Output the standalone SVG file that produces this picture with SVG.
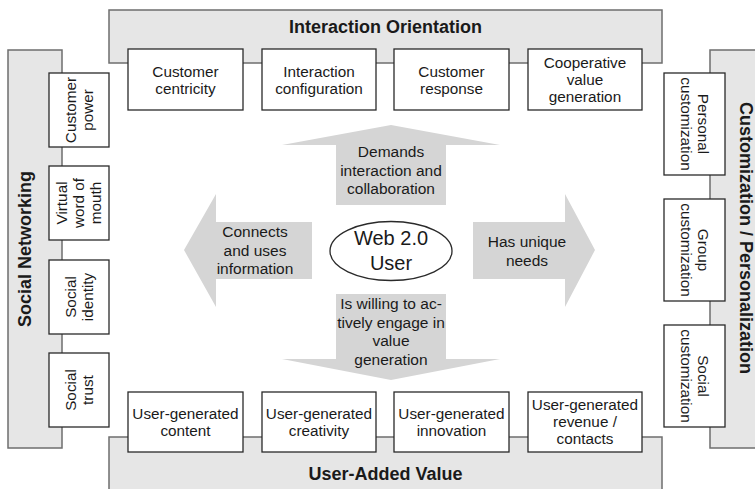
<svg xmlns="http://www.w3.org/2000/svg" width="755" height="489" viewBox="0 0 755 489">
  <style>
    .panel { fill: #e6e6e6; stroke: #6e6e6e; stroke-width: 1.5; }
    .box { fill: #ffffff; stroke: #2a2a2a; stroke-width: 1.3; }
    .arrow { fill: #d5d5d5; stroke: none; }
    .title { font-family: "Liberation Sans", Arial, Helvetica, sans-serif; font-weight: bold; font-size: 18px; fill: #1a1a1a; text-anchor: middle; }
    .lbl { font-family: "Liberation Sans", Arial, Helvetica, sans-serif; font-size: 15.3px; fill: #1a1a1a; text-anchor: middle; }
    .alb { font-family: "Liberation Sans", Arial, Helvetica, sans-serif; font-size: 15.5px; fill: #1a1a1a; text-anchor: middle; }
    .user { font-family: "Liberation Sans", Arial, Helvetica, sans-serif; font-size: 20px; fill: #1a1a1a; text-anchor: middle; }
  </style>

  <!-- Outer panels -->
  <g id="interaction-orientation">
    <rect class="panel" x="109" y="10" width="553" height="53"/>
    <text class="title" x="385.5" y="33">Interaction Orientation</text>
  </g>
  <g id="user-added-value">
    <rect class="panel" x="109" y="437" width="553" height="70"/>
    <text class="title" x="385.5" y="480">User-Added Value</text>
  </g>
  <g id="social-networking">
    <rect class="panel" x="8" y="50" width="54" height="398"/>
    <text class="title" transform="translate(31,249) rotate(-90)" x="0" y="0">Social Networking</text>
  </g>
  <g id="customization-personalization">
    <rect class="panel" x="710" y="50" width="60" height="398"/>
    <text class="title" transform="translate(740,238) rotate(90)" x="0" y="0">Customization / Personalization</text>
  </g>

  <!-- Top row -->
  <g id="customer-centricity">
    <rect class="box" x="128" y="49" width="115" height="61"/>
    <text class="lbl" x="185.5" y="76.5">Customer</text>
    <text class="lbl" x="185.5" y="93.5">centricity</text>
  </g>
  <g id="interaction-configuration">
    <rect class="box" x="262" y="49" width="114" height="61"/>
    <text class="lbl" x="319" y="76.5">Interaction</text>
    <text class="lbl" x="319" y="93.5">configuration</text>
  </g>
  <g id="customer-response">
    <rect class="box" x="394" y="49" width="115" height="61"/>
    <text class="lbl" x="451.5" y="76.5">Customer</text>
    <text class="lbl" x="451.5" y="93.5">response</text>
  </g>
  <g id="cooperative-value-generation">
    <rect class="box" x="528" y="49" width="114" height="61"/>
    <text class="lbl" x="585" y="67.5">Cooperative</text>
    <text class="lbl" x="585" y="84.5">value</text>
    <text class="lbl" x="585" y="101.5">generation</text>
  </g>

  <!-- Bottom row -->
  <g id="ug-content">
    <rect class="box" x="128" y="392" width="115" height="60"/>
    <text class="lbl" x="185.5" y="419">User-generated</text>
    <text class="lbl" x="185.5" y="436">content</text>
  </g>
  <g id="ug-creativity">
    <rect class="box" x="262" y="392" width="114" height="60"/>
    <text class="lbl" x="319" y="419">User-generated</text>
    <text class="lbl" x="319" y="436">creativity</text>
  </g>
  <g id="ug-innovation">
    <rect class="box" x="394" y="392" width="115" height="60"/>
    <text class="lbl" x="451.5" y="419">User-generated</text>
    <text class="lbl" x="451.5" y="436">innovation</text>
  </g>
  <g id="ug-revenue">
    <rect class="box" x="528" y="392" width="114" height="60"/>
    <text class="lbl" x="585" y="410">User-generated</text>
    <text class="lbl" x="585" y="427">revenue /</text>
    <text class="lbl" x="585" y="444">contacts</text>
  </g>

  <!-- Left column -->
  <g id="customer-power">
    <rect class="box" x="49" y="73" width="60" height="74"/>
    <g transform="translate(79,110) rotate(-90)">
      <text class="lbl" x="0" y="-3.2">Customer</text>
      <text class="lbl" x="0" y="13.8">power</text>
    </g>
  </g>
  <g id="virtual-word-of-mouth">
    <rect class="box" x="49" y="166" width="60" height="74"/>
    <g transform="translate(79,203) rotate(-90)">
      <text class="lbl" x="0" y="-11.7">Virtual</text>
      <text class="lbl" x="0" y="5.3">word of</text>
      <text class="lbl" x="0" y="22.3">mouth</text>
    </g>
  </g>
  <g id="social-identity">
    <rect class="box" x="49" y="260" width="60" height="74"/>
    <g transform="translate(79,297) rotate(-90)">
      <text class="lbl" x="0" y="-3.2">Social</text>
      <text class="lbl" x="0" y="13.8">identity</text>
    </g>
  </g>
  <g id="social-trust">
    <rect class="box" x="49" y="353" width="60" height="74"/>
    <g transform="translate(79,390) rotate(-90)">
      <text class="lbl" x="0" y="-3.2">Social</text>
      <text class="lbl" x="0" y="13.8">trust</text>
    </g>
  </g>

  <!-- Right column -->
  <g id="personal-customization">
    <rect class="box" x="664" y="73" width="61" height="102"/>
    <g transform="translate(694.5,124) rotate(90)">
      <text class="lbl" x="0" y="-3.2">Personal</text>
      <text class="lbl" x="0" y="13.8">customization</text>
    </g>
  </g>
  <g id="group-customization">
    <rect class="box" x="664" y="199" width="61" height="102"/>
    <g transform="translate(694.5,250) rotate(90)">
      <text class="lbl" x="0" y="-3.2">Group</text>
      <text class="lbl" x="0" y="13.8">customization</text>
    </g>
  </g>
  <g id="social-customization">
    <rect class="box" x="664" y="325" width="61" height="102"/>
    <g transform="translate(694.5,376) rotate(90)">
      <text class="lbl" x="0" y="-3.2">Social</text>
      <text class="lbl" x="0" y="13.8">customization</text>
    </g>
  </g>

  <!-- Block arrows radiating from the user -->
  <g id="connectors">
    <polygon class="arrow" points="391,125 500,145 446,145 446,205 336,205 336,145 282,145"/>
    <polygon class="arrow" points="336,294 446,294 446,359 500,359 391,380 282,359 336,359"/>
    <polygon class="arrow" points="184,250 216,194 216,222 312,222 312,279 216,279 216,307"/>
    <polygon class="arrow" points="473,222 565,222 565,194 595,250 565,307 565,279 473,279"/>

    <text class="alb" x="391" y="157">Demands</text>
    <text class="alb" x="391" y="175.7">interaction and</text>
    <text class="alb" x="391" y="194.4">collaboration</text>

    <text class="alb" x="391" y="309">Is willing to ac-</text>
    <text class="alb" x="391" y="327.5">tively engage in</text>
    <text class="alb" x="391" y="346">value</text>
    <text class="alb" x="391" y="364.5">generation</text>

    <text class="alb" x="255" y="237">Connects</text>
    <text class="alb" x="255" y="255.7">and uses</text>
    <text class="alb" x="255" y="274.4">information</text>

    <text class="alb" x="527" y="247">Has unique</text>
    <text class="alb" x="527" y="265.7">needs</text>
  </g>

  <g id="web20-user">
    <ellipse cx="391" cy="251" rx="61" ry="29.5" fill="#ffffff" stroke="#2a2a2a" stroke-width="1.3"/>
    <text class="user" x="391" y="245">Web 2.0</text>
    <text class="user" x="391" y="269.5">User</text>
  </g>
</svg>
